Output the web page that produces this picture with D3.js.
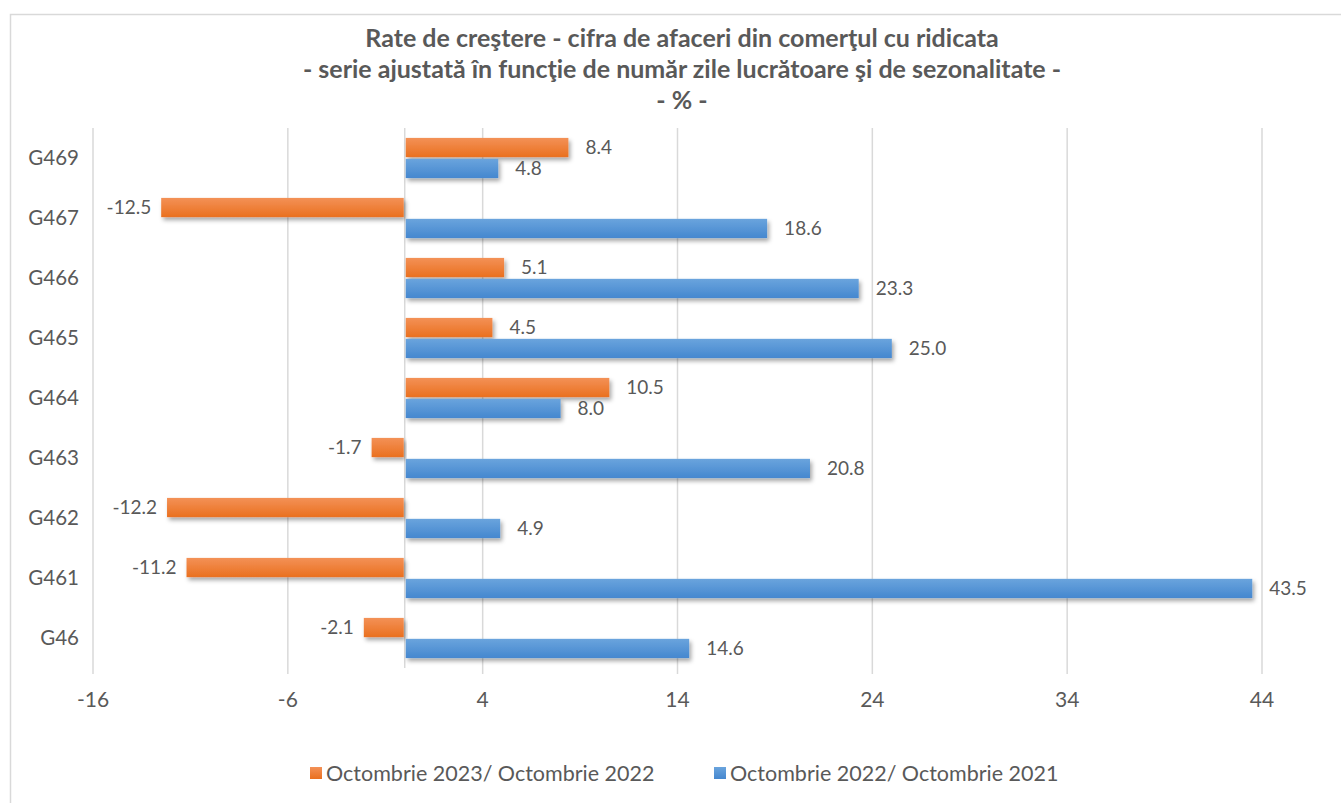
<!DOCTYPE html>
<html>
<head>
<meta charset="utf-8">
<script src="https://d3js.org/d3.v7.min.js"></script>
<style>
body { margin: 0; background: #fff; }
text { font-family: Lato, "Open Sans", sans-serif; fill: #595959; }
</style>
</head>
<body>
<script>
var categories = ['G469', 'G467', 'G466', 'G465', 'G464', 'G463', 'G462', 'G461', 'G46'];
var seriesNames = ['Octombrie 2023/ Octombrie 2022', 'Octombrie 2022/ Octombrie 2021'];
var oct2023 = [8.4, -12.5, 5.1, 4.5, 10.5, -1.7, -12.2, -11.2, -2.1];
var oct2022 = [4.8, 18.6, 23.3, 25.0, 8.0, 20.8, 4.9, 43.5, 14.6];
var xTicks = [-16, -6, 4, 14, 24, 34, 44];
var titleLines = ['Rate de creştere - cifra de afaceri din comerţul cu ridicata',
	'- serie ajustată în funcţie de număr zile lucrătoare şi de sezonalitate -',
	'- % -'];

var W = 1341, H = 803;
var svg = d3.select('body').append('svg')
	.attr('width', W)
	.attr('height', H);

// gradients + shadow, to look like the excel bars
var defs = svg.append('defs');
function grad(id, c1, c2) {
	var g = defs.append('linearGradient').attr('id', id)
		.attr('x1', 0).attr('y1', 0).attr('x2', 0).attr('y2', 1);
	g.append('stop').attr('offset', '0%').attr('stop-color', c1);
	g.append('stop').attr('offset', '100%').attr('stop-color', c2);
}
grad('gOrange', '#f39157', '#ea701f');
grad('gBlue', '#6aa4dd', '#4587cf');
var f = defs.append('filter').attr('id', 'shadow')
	.attr('x', '-5%').attr('y', '-30%').attr('width', '115%').attr('height', '180%');
f.append('feDropShadow').attr('dx', 2).attr('dy', 3).attr('stdDeviation', 2)
	.attr('flood-color', '#000').attr('flood-opacity', 0.35);

// chart frame
svg.append('rect')
	.attr('x', 10.5).attr('y', 14.5)
	.attr('width', W + 10).attr('height', H + 10)
	.attr('fill', 'none').attr('stroke', '#d9d9d9').attr('stroke-width', 1.5);

// title
svg.append('g').selectAll('text')
	.data(titleLines)
	.enter().append('text')
	.attr('x', 682)
	.attr('y', function(d, i) { return 47 + i * 31; })
	.attr('text-anchor', 'middle')
	.style('font-size', '25px')
	.style('font-weight', 'bold')
	.text(function(d) { return d; });

var x = d3.scaleLinear().domain([-16, 44]).range([93, 1262]);
var y = d3.scaleBand().domain(categories).range([128, 668])
	.paddingInner(0.33).paddingOuter(0.165);
var yInner = d3.scaleBand().domain([0, 1]).range([0, y.bandwidth()]).paddingInner(0.08);

// gridlines
svg.append('g').selectAll('line')
	.data(xTicks)
	.enter().append('line')
	.attr('x1', function(d) { return x(d); })
	.attr('x2', function(d) { return x(d); })
	.attr('y1', 128).attr('y2', 674)
	.attr('stroke', '#d9d9d9').attr('stroke-width', 1.5);

// zero axis
svg.append('line')
	.attr('x1', x(0)).attr('x2', x(0))
	.attr('y1', 128).attr('y2', 668)
	.attr('stroke', '#d9d9d9').attr('stroke-width', 1.5);

// x tick labels
svg.append('g').selectAll('text')
	.data(xTicks)
	.enter().append('text')
	.attr('x', function(d) { return x(d); })
	.attr('y', 700)
	.attr('dy', '0.35em')
	.attr('text-anchor', 'middle')
	.style('font-size', '21px')
	.text(function(d) { return d; });

// category labels
svg.append('g').selectAll('text')
	.data(categories)
	.enter().append('text')
	.attr('x', 79)
	.attr('y', function(d) { return y(d) + y.bandwidth() / 2; })
	.attr('dy', '0.35em')
	.attr('text-anchor', 'end')
	.style('font-size', '20.5px')
	.text(function(d) { return d; });

var series = [
	{ values: oct2023, fill: 'url(#gOrange)' },
	{ values: oct2022, fill: 'url(#gBlue)' }
];

series.forEach(function(s, si) {
	var g = svg.append('g');
	var rows = categories.map(function(c, i) { return { cat: c, v: s.values[i] }; });

	g.selectAll('rect')
		.data(rows)
		.enter().append('rect')
		.attr('x', function(d) { return d.v < 0 ? x(d.v) : x(0) + 1; })
		.attr('y', function(d) { return y(d.cat) + yInner(si); })
		.attr('width', function(d) { return Math.abs(x(d.v) - x(0)) - 1; })
		.attr('height', yInner.bandwidth())
		.attr('fill', s.fill)
		.attr('filter', 'url(#shadow)');

	g.selectAll('text')
		.data(rows)
		.enter().append('text')
		.attr('x', function(d) { return d.v < 0 ? x(d.v) - 10 : x(d.v) + 17; })
		.attr('y', function(d) { return y(d.cat) + yInner(si) + yInner.bandwidth() / 2; })
		.attr('dy', '0.35em')
		.attr('text-anchor', function(d) { return d.v < 0 ? 'end' : 'start'; })
		.style('font-size', '19px')
		.text(function(d) { return d.v.toFixed(1); });
});

// legend
var legend = svg.append('g');
var legendX = [310, 714];
seriesNames.forEach(function(name, i) {
	legend.append('rect')
		.attr('x', legendX[i]).attr('y', 767)
		.attr('width', 12).attr('height', 12)
		.attr('fill', series[i].fill);
	legend.append('text')
		.attr('x', legendX[i] + 16).attr('y', 773)
		.attr('dy', '0.35em')
		.style('font-size', '21.5px')
		.text(name);
});
</script>
</body>
</html>
